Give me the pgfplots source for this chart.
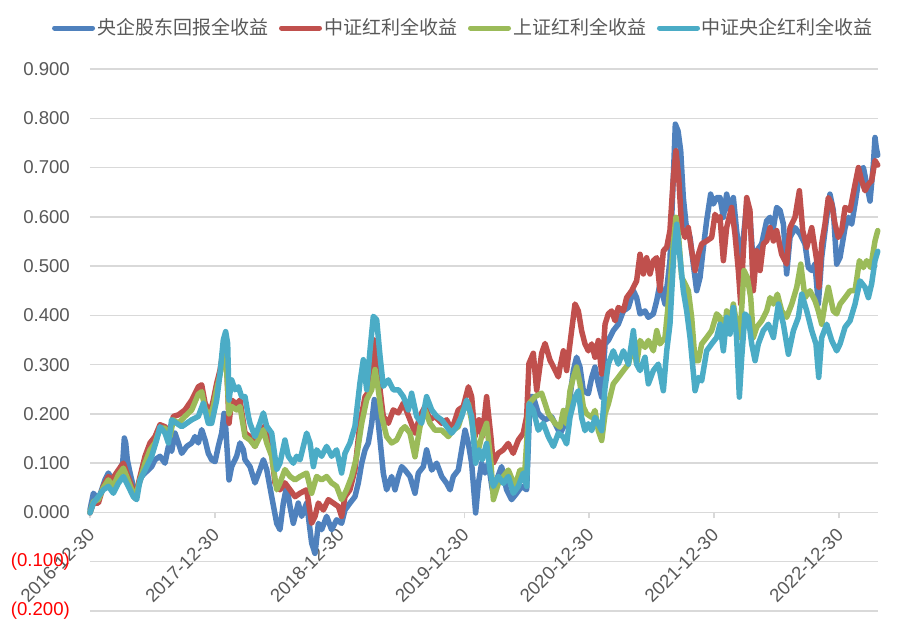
\documentclass[border=0pt]{standalone}
\usepackage{pgfplots}
\pgfplotsset{compat=1.18}
\usepackage{fontspec}
\setmainfont{Liberation Sans}
\newfontfamily\cjk{Noto Sans CJK SC}
\definecolor{sBlue}{HTML}{4F81BD}
\definecolor{sRed}{HTML}{C0504D}
\definecolor{sGreen}{HTML}{9BBB59}
\definecolor{sCyan}{HTML}{4BACC6}
\definecolor{gridc}{HTML}{D9D9D9}
\definecolor{txt}{HTML}{595959}
\begin{document}
\fontsize{18.6bp}{22bp}\selectfont
\begin{tikzpicture}
\begin{axis}[
  scale only axis, width=788bp, height=542bp,
  xmin=0, xmax=6.314, ymin=-0.2, ymax=0.9,
  clip=false,
  axis x line=middle, axis y line=left,
  axis line style={-, draw=gridc, line width=1.5bp},
  y axis line style={draw=none},
  hide obscured x ticks=false, hide obscured y ticks=false,
  xtick={0,1,2,3,4,5,6},
  xticklabels={2016-12-30,2017-12-30,2018-12-30,2019-12-30,2020-12-30,2021-12-30,2022-12-30},
  xticklabel style={rotate=45, anchor=east, text=txt, inner sep=0pt, xshift=-8.5bp, yshift=-10.3bp},
  xtick style={draw=gridc, line width=1.5bp},
  tick align=outside, major tick length=6bp,
  ytick={-0.2,-0.1,0,0.1,0.2,0.3,0.4,0.5,0.6,0.7,0.8,0.9},
  yticklabels={\textcolor{red}{(0.200)},\textcolor{red}{(0.100)},0.000,0.100,0.200,0.300,0.400,0.500,0.600,0.700,0.800,0.900},
  yticklabel style={text=txt, anchor=east, inner sep=0pt, xshift=-14bp},
  ytick style={draw=none},
  ymajorgrids, grid style={draw=gridc, line width=1.5bp},
  every axis plot/.append style={line width=5.5bp, line join=round, line cap=round},
  legend columns=4,
  legend style={draw=none, fill=none, at={(0.474,1.0756)}, anchor=center,
    font=\cjk\fontsize{19bp}{22bp}\selectfont, text=txt, inner sep=0pt,
    /tikz/every even column/.append style={column sep=9bp}},
  legend image code/.code={\draw[#1, line width=5bp, line cap=round] (0bp,0bp) -- (38bp,0bp);},
]
\coordinate (sw) at (rel axis cs:0,0);
\coordinate (ne) at (rel axis cs:1,1);
% 央企股东回报全收益
\addplot[sBlue] table {
0.000 0.005
0.027 0.039
0.067 0.026
0.120 0.066
0.147 0.080
0.187 0.063
0.214 0.053
0.227 0.080
0.248 0.093
0.262 0.100
0.275 0.151
0.286 0.141
0.299 0.107
0.321 0.080
0.347 0.053
0.361 0.032
0.387 0.053
0.414 0.073
0.441 0.080
0.494 0.093
0.521 0.107
0.561 0.114
0.601 0.100
0.628 0.134
0.654 0.124
0.681 0.161
0.708 0.141
0.735 0.120
0.775 0.134
0.815 0.141
0.841 0.154
0.868 0.141
0.895 0.168
0.922 0.147
0.948 0.120
0.975 0.107
1.002 0.103
1.028 0.134
1.055 0.161
1.074 0.201
1.087 0.174
1.114 0.066
1.135 0.093
1.175 0.114
1.202 0.141
1.229 0.127
1.242 0.107
1.282 0.093
1.322 0.060
1.362 0.087
1.389 0.107
1.416 0.087
1.456 0.032
1.496 -0.022
1.522 -0.035
1.549 0.019
1.576 0.053
1.603 0.012
1.629 -0.022
1.669 0.019
1.696 -0.008
1.736 0.019
1.776 -0.062
1.803 -0.083
1.830 -0.022
1.856 -0.035
1.896 -0.008
1.936 -0.035
1.976 -0.015
2.016 -0.022
2.043 0.005
2.083 0.019
2.123 0.032
2.150 0.060
2.177 0.100
2.204 0.127
2.230 0.141
2.257 0.181
2.278 0.229
2.297 0.215
2.324 0.147
2.350 0.080
2.377 0.046
2.417 0.073
2.444 0.046
2.471 0.073
2.497 0.093
2.524 0.086
2.564 0.073
2.604 0.039
2.631 0.080
2.671 0.093
2.697 0.127
2.738 0.086
2.778 0.100
2.818 0.073
2.858 0.059
2.885 0.046
2.911 0.073
2.951 0.086
2.978 0.127
3.005 0.167
3.032 0.140
3.058 0.100
3.090 -0.001
3.112 0.059
3.138 0.100
3.165 0.080
3.192 0.100
3.224 0.046
3.258 0.066
3.298 0.093
3.338 0.046
3.378 0.026
3.419 0.039
3.459 0.053
3.499 0.046
3.526 0.235
3.552 0.235
3.592 0.201
3.646 0.188
3.699 0.194
3.753 0.167
3.766 0.159
3.793 0.173
3.819 0.193
3.846 0.234
3.873 0.288
3.899 0.315
3.926 0.295
3.953 0.247
3.993 0.241
4.020 0.274
4.046 0.295
4.073 0.261
4.100 0.234
4.127 0.342
4.153 0.349
4.193 0.369
4.233 0.382
4.274 0.409
4.314 0.416
4.354 0.450
4.380 0.436
4.407 0.403
4.447 0.409
4.474 0.396
4.514 0.403
4.541 0.430
4.567 0.464
4.607 0.423
4.647 0.511
4.674 0.680
4.690 0.788
4.712 0.774
4.733 0.734
4.754 0.639
4.776 0.585
4.808 0.558
4.834 0.504
4.861 0.450
4.888 0.477
4.915 0.538
4.941 0.592
4.973 0.646
4.995 0.626
5.021 0.639
5.048 0.639
5.075 0.599
5.101 0.646
5.128 0.613
5.155 0.639
5.181 0.572
5.208 0.518
5.235 0.558
5.262 0.626
5.288 0.599
5.315 0.504
5.342 0.531
5.382 0.545
5.422 0.592
5.449 0.599
5.476 0.578
5.502 0.619
5.529 0.613
5.556 0.585
5.582 0.484
5.609 0.558
5.649 0.578
5.689 0.565
5.729 0.545
5.756 0.497
5.783 0.491
5.809 0.504
5.836 0.423
5.863 0.518
5.903 0.599
5.929 0.646
5.956 0.613
5.983 0.504
6.010 0.518
6.050 0.578
6.077 0.599
6.103 0.585
6.130 0.626
6.170 0.693
6.197 0.700
6.223 0.666
6.250 0.632
6.277 0.707
6.290 0.761
6.300 0.740
6.312 0.725
};
\addlegendentry{央企股东回报全收益}
% 中证红利全收益
\addplot[sRed] table {
0.000 -0.001
0.027 0.019
0.067 0.019
0.107 0.053
0.147 0.073
0.174 0.066
0.227 0.086
0.267 0.100
0.294 0.080
0.334 0.053
0.361 0.029
0.401 0.073
0.441 0.114
0.481 0.141
0.521 0.154
0.561 0.178
0.601 0.174
0.641 0.161
0.668 0.195
0.708 0.198
0.761 0.208
0.815 0.228
0.868 0.255
0.895 0.259
0.922 0.222
0.962 0.201
0.988 0.228
1.015 0.262
1.042 0.289
1.068 0.330
1.090 0.335
1.114 0.181
1.135 0.228
1.175 0.220
1.202 0.228
1.242 0.161
1.282 0.154
1.322 0.134
1.362 0.168
1.402 0.175
1.442 0.154
1.482 0.060
1.522 0.046
1.562 0.060
1.603 0.046
1.643 0.032
1.683 0.039
1.736 0.046
1.776 -0.022
1.803 -0.008
1.830 0.019
1.870 0.005
1.910 0.026
1.950 0.019
1.990 0.012
2.016 -0.008
2.043 0.032
2.083 0.046
2.123 0.087
2.163 0.181
2.204 0.235
2.244 0.249
2.278 0.350
2.297 0.317
2.324 0.249
2.350 0.195
2.390 0.181
2.430 0.208
2.471 0.202
2.511 0.222
2.564 0.188
2.604 0.161
2.644 0.195
2.684 0.215
2.724 0.188
2.764 0.195
2.818 0.181
2.858 0.188
2.898 0.167
2.951 0.208
2.991 0.215
3.032 0.255
3.058 0.235
3.085 0.154
3.117 0.188
3.143 0.154
3.178 0.235
3.212 0.154
3.231 0.100
3.271 0.120
3.311 0.127
3.351 0.140
3.391 0.120
3.432 0.147
3.472 0.161
3.499 0.195
3.517 0.302
3.552 0.323
3.579 0.248
3.619 0.323
3.646 0.343
3.686 0.309
3.726 0.289
3.753 0.275
3.766 0.295
3.793 0.328
3.819 0.288
3.859 0.369
3.886 0.423
3.913 0.409
3.939 0.369
3.966 0.342
3.993 0.328
4.020 0.342
4.046 0.315
4.073 0.349
4.100 0.281
4.127 0.382
4.153 0.403
4.180 0.409
4.207 0.389
4.233 0.416
4.274 0.409
4.300 0.436
4.340 0.450
4.380 0.470
4.407 0.524
4.434 0.484
4.460 0.517
4.487 0.484
4.514 0.511
4.541 0.517
4.567 0.450
4.594 0.531
4.621 0.538
4.647 0.572
4.674 0.680
4.695 0.734
4.717 0.680
4.741 0.578
4.768 0.558
4.794 0.578
4.821 0.531
4.848 0.491
4.875 0.524
4.901 0.545
4.941 0.551
4.981 0.558
5.008 0.605
5.035 0.592
5.048 0.600
5.075 0.511
5.101 0.578
5.141 0.619
5.168 0.565
5.195 0.491
5.214 0.423
5.235 0.531
5.262 0.639
5.288 0.613
5.315 0.450
5.342 0.531
5.369 0.491
5.395 0.545
5.422 0.551
5.449 0.578
5.476 0.551
5.502 0.572
5.542 0.524
5.582 0.504
5.609 0.578
5.649 0.599
5.684 0.653
5.711 0.572
5.743 0.538
5.783 0.578
5.823 0.511
5.841 0.457
5.863 0.545
5.889 0.585
5.916 0.639
5.943 0.626
5.970 0.585
5.996 0.558
6.023 0.572
6.050 0.619
6.090 0.613
6.130 0.666
6.157 0.700
6.183 0.673
6.210 0.653
6.237 0.666
6.263 0.673
6.290 0.714
6.312 0.705
};
\addlegendentry{中证红利全收益}
% 上证红利全收益
\addplot[sGreen] table {
0.000 0.000
0.027 0.022
0.067 0.026
0.107 0.050
0.147 0.066
0.187 0.053
0.227 0.076
0.267 0.090
0.294 0.073
0.334 0.046
0.361 0.029
0.401 0.066
0.441 0.100
0.481 0.127
0.521 0.141
0.561 0.171
0.601 0.171
0.641 0.154
0.668 0.188
0.708 0.181
0.761 0.195
0.815 0.208
0.868 0.240
0.895 0.245
0.922 0.210
0.962 0.195
0.988 0.215
1.015 0.250
1.042 0.280
1.068 0.320
1.090 0.310
1.114 0.200
1.135 0.215
1.175 0.208
1.202 0.215
1.242 0.154
1.282 0.147
1.322 0.134
1.362 0.154
1.389 0.168
1.416 0.141
1.456 0.114
1.496 0.046
1.522 0.060
1.562 0.087
1.603 0.073
1.643 0.066
1.683 0.073
1.736 0.080
1.776 0.039
1.816 0.073
1.856 0.066
1.896 0.073
1.936 0.060
1.976 0.053
2.016 0.026
2.056 0.046
2.097 0.073
2.137 0.114
2.177 0.181
2.217 0.229
2.257 0.249
2.284 0.290
2.310 0.249
2.337 0.195
2.377 0.154
2.417 0.141
2.457 0.147
2.497 0.168
2.524 0.174
2.564 0.161
2.604 0.113
2.644 0.174
2.684 0.208
2.724 0.181
2.764 0.167
2.818 0.167
2.871 0.154
2.911 0.167
2.951 0.174
2.991 0.208
3.032 0.221
3.071 0.167
3.098 0.113
3.138 0.154
3.178 0.181
3.213 0.100
3.232 0.026
3.272 0.059
3.312 0.073
3.352 0.086
3.405 0.053
3.445 0.086
3.485 0.086
3.518 0.221
3.566 0.235
3.619 0.242
3.672 0.201
3.726 0.181
3.766 0.173
3.793 0.207
3.819 0.180
3.846 0.247
3.873 0.274
3.899 0.295
3.926 0.261
3.953 0.214
3.980 0.200
4.020 0.193
4.046 0.207
4.073 0.166
4.100 0.146
4.127 0.200
4.153 0.220
4.193 0.261
4.233 0.274
4.274 0.288
4.314 0.301
4.354 0.342
4.380 0.301
4.407 0.349
4.447 0.335
4.474 0.349
4.514 0.328
4.541 0.369
4.567 0.342
4.607 0.355
4.647 0.457
4.674 0.545
4.695 0.599
4.717 0.558
4.741 0.477
4.768 0.464
4.794 0.450
4.821 0.396
4.848 0.308
4.875 0.308
4.901 0.342
4.941 0.355
4.981 0.369
5.021 0.403
5.048 0.396
5.075 0.342
5.101 0.409
5.128 0.382
5.155 0.423
5.181 0.382
5.208 0.355
5.240 0.491
5.267 0.477
5.294 0.436
5.315 0.355
5.342 0.376
5.382 0.389
5.422 0.409
5.449 0.436
5.476 0.423
5.508 0.443
5.542 0.409
5.582 0.396
5.623 0.423
5.663 0.457
5.695 0.504
5.729 0.436
5.769 0.450
5.809 0.430
5.836 0.409
5.863 0.382
5.889 0.423
5.916 0.457
5.956 0.409
5.983 0.403
6.010 0.423
6.050 0.436
6.090 0.450
6.130 0.450
6.165 0.511
6.197 0.497
6.223 0.511
6.255 0.497
6.290 0.551
6.312 0.572
};
\addlegendentry{上证红利全收益}
% 中证央企红利全收益
\addplot[sCyan] table {
0.000 -0.001
0.027 0.019
0.067 0.032
0.107 0.046
0.147 0.053
0.187 0.039
0.227 0.059
0.267 0.073
0.307 0.053
0.347 0.032
0.374 0.026
0.401 0.066
0.441 0.086
0.494 0.114
0.534 0.147
0.561 0.174
0.601 0.161
0.628 0.141
0.654 0.188
0.694 0.181
0.735 0.174
0.775 0.181
0.815 0.188
0.868 0.195
0.908 0.222
0.948 0.181
0.975 0.181
1.015 0.228
1.042 0.282
1.068 0.350
1.087 0.367
1.103 0.343
1.114 0.228
1.135 0.269
1.162 0.249
1.189 0.255
1.215 0.235
1.242 0.235
1.269 0.195
1.282 0.181
1.322 0.154
1.362 0.181
1.389 0.202
1.416 0.175
1.456 0.161
1.496 0.087
1.522 0.100
1.562 0.147
1.589 0.114
1.629 0.100
1.656 0.114
1.683 0.107
1.736 0.161
1.763 0.141
1.790 0.093
1.816 0.127
1.856 0.114
1.896 0.134
1.936 0.114
1.976 0.127
2.016 0.080
2.043 0.120
2.083 0.141
2.123 0.175
2.163 0.263
2.190 0.310
2.217 0.249
2.244 0.330
2.270 0.398
2.297 0.391
2.324 0.317
2.350 0.256
2.390 0.269
2.430 0.249
2.471 0.249
2.511 0.235
2.551 0.208
2.577 0.242
2.617 0.195
2.657 0.181
2.697 0.235
2.738 0.208
2.778 0.195
2.818 0.188
2.858 0.174
2.898 0.161
2.938 0.174
2.978 0.195
3.018 0.228
3.058 0.195
3.090 0.100
3.117 0.127
3.143 0.107
3.178 0.140
3.205 0.086
3.232 0.053
3.272 0.073
3.312 0.059
3.352 0.073
3.392 0.039
3.432 0.053
3.472 0.080
3.499 0.053
3.518 0.221
3.552 0.208
3.592 0.167
3.632 0.181
3.672 0.154
3.713 0.134
3.753 0.161
3.793 0.153
3.819 0.139
3.846 0.193
3.886 0.234
3.913 0.247
3.939 0.193
3.966 0.166
3.993 0.180
4.020 0.166
4.046 0.193
4.073 0.180
4.100 0.166
4.127 0.254
4.153 0.301
4.193 0.328
4.233 0.301
4.274 0.328
4.314 0.301
4.354 0.369
4.380 0.301
4.407 0.288
4.447 0.315
4.474 0.261
4.514 0.288
4.554 0.301
4.594 0.247
4.621 0.328
4.647 0.382
4.679 0.531
4.701 0.585
4.722 0.531
4.754 0.450
4.781 0.409
4.808 0.355
4.848 0.247
4.875 0.274
4.901 0.267
4.941 0.328
4.981 0.342
5.021 0.355
5.048 0.382
5.075 0.328
5.101 0.396
5.128 0.362
5.155 0.416
5.181 0.355
5.203 0.234
5.222 0.315
5.248 0.403
5.275 0.396
5.302 0.342
5.329 0.308
5.355 0.342
5.395 0.369
5.436 0.382
5.476 0.355
5.516 0.423
5.556 0.382
5.596 0.321
5.636 0.369
5.676 0.396
5.703 0.443
5.743 0.409
5.783 0.369
5.817 0.342
5.839 0.274
5.863 0.355
5.903 0.382
5.943 0.349
5.983 0.328
6.010 0.342
6.050 0.376
6.090 0.389
6.130 0.423
6.170 0.470
6.210 0.457
6.237 0.436
6.263 0.464
6.290 0.511
6.312 0.530
};
\addlegendentry{中证央企红利全收益}
\end{axis}
\pgfresetboundingbox
\path ([shift={(-90bp,-24bp)}]sw) rectangle ([shift={(39bp,69bp)}]ne);
\end{tikzpicture}
\end{document}
